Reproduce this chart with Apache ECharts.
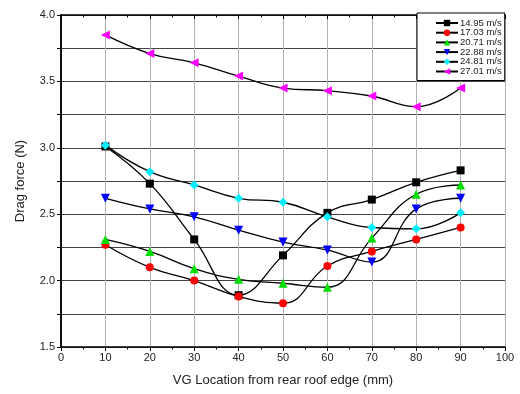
<!DOCTYPE html>
<html><head><meta charset="utf-8">
<script src="https://cdn.jsdelivr.net/npm/echarts@6/dist/echarts.min.js"></script>
<style>html,body{margin:0;padding:0;background:#fff}#c{width:520px;height:394px}</style>
</head><body><div id="c"></div>
<script>
const positions = [10, 20, 30, 40, 50, 60, 70, 80, 90];
const seriesNames = ['14.95 m/s', '17.03 m/s', '20.71 m/s', '22.88 m/s', '24.81 m/s', '27.01 m/s'];
const s1495 = [3.01, 2.73, 2.31, 1.89, 2.19, 2.51, 2.61, 2.74, 2.83];
const s1703 = [2.27, 2.10, 2.00, 1.88, 1.83, 2.11, 2.22, 2.31, 2.40];
const s2071 = [2.31, 2.22, 2.09, 2.01, 1.98, 1.95, 2.32, 2.65, 2.72];
const s2288 = [2.62, 2.54, 2.48, 2.38, 2.29, 2.23, 2.14, 2.54, 2.62];
const s2481 = [3.02, 2.82, 2.72, 2.62, 2.59, 2.48, 2.40, 2.39, 2.51];
const s2701 = [3.85, 3.71, 3.64, 3.54, 3.45, 3.43, 3.39, 3.31, 3.45];
const xTicks = [0, 10, 20, 30, 40, 50, 60, 70, 80, 90, 100];
const yTicks = ['1.5', '2.0', '2.5', '3.0', '3.5', '4.0'];

const allData = [s1495, s1703, s2071, s2288, s2481, s2701];
const colors = ['#000000', '#ff0000', '#00dd00', '#0000ff', '#00eeff', '#ff00ff'];
const symbols = ['rect', 'circle', 'triangle', 'triangle', 'diamond', 'triangle'];
const rotates = [0, 0, 0, 180, 0, 90];
const sizes = [8, 8, 9, 9, 9, 9];

const font = 'Liberation Sans, Arial, sans-serif';
const chart = echarts.init(document.getElementById('c'));
chart.setOption({
  animation: false,
  grid: { left: 61, right: 15, top: 15, bottom: 47, containLabel: false },
  legend: {
    orient: 'vertical', left: 417, top: 13,
    itemWidth: 22, itemHeight: 8, itemGap: -0.3,
    backgroundColor: '#fff',
    borderColor: '#000', borderWidth: 1, padding: [5, 3, 4, 18],
    textStyle: { fontSize: 9.5, fontFamily: font, color: '#222', padding: [0, 0, 0, -3] },
    data: seriesNames
  },
  xAxis: [{
    type: 'value', min: 0, max: 100, interval: 10,
    name: 'VG Location from rear roof edge (mm)', nameLocation: 'middle', nameGap: 27,
    nameTextStyle: { fontSize: 13, fontFamily: font, color: '#222' },
    axisLine: { lineStyle: { color: '#000', width: 1.5 } },
    axisTick: { inside: false, length: 4, lineStyle: { color: '#000' } },
    minorTick: { show: true, splitNumber: 2, length: 2.5, lineStyle: { color: '#000' } },
    axisLabel: { fontSize: 11, fontFamily: font, color: '#222', margin: 5,
      formatter: v => xTicks.includes(v) ? String(v) : '' },
    splitLine: { show: true, lineStyle: { color: '#b0b0b0', width: 1 } }
  }, {
    type: 'value', min: 0, max: 100, interval: 10, position: 'top',
    axisLine: { show: true, lineStyle: { color: '#000', width: 1.5 } },
    axisTick: { inside: true, length: 4, lineStyle: { color: '#000' } },
    minorTick: { show: true, splitNumber: 2, length: 2.5, lineStyle: { color: '#000' } },
    axisLabel: { show: false }, splitLine: { show: false }
  }],
  yAxis: [{
    type: 'value', min: 1.5, max: 4.0, interval: 0.5,
    name: 'Drag force (N)', nameLocation: 'middle', nameGap: 34,
    nameTextStyle: { fontSize: 13, fontFamily: font, color: '#222' },
    axisLine: { show: true, lineStyle: { color: '#000', width: 1.5 } },
    axisTick: { show: true, inside: false, length: 4, lineStyle: { color: '#000' } },
    minorTick: { show: true, splitNumber: 2, length: 3, lineStyle: { color: '#000' } },
    axisLabel: { fontSize: 11, fontFamily: font, color: '#222', margin: 6,
      formatter: v => { const s = v.toFixed(1); return yTicks.includes(s) ? s : ''; } },
    splitLine: { show: true, lineStyle: { color: '#444', width: 1 } },
    minorSplitLine: { show: true, lineStyle: { color: '#444', width: 1 } }
  }, {
    type: 'value', min: 1.5, max: 4.0, interval: 0.5, position: 'right',
    axisLine: { show: true, lineStyle: { color: '#000', width: 1.5 } },
    axisTick: { show: true, inside: true, length: 4, lineStyle: { color: '#000' } },
    minorTick: { show: true, splitNumber: 2, length: 4, lineStyle: { color: '#000' } },
    axisLabel: { show: false }, splitLine: { show: false }
  }],
  series: seriesNames.map((n, i) => ({
    name: n, type: 'line', xAxisIndex: 0, yAxisIndex: 0,
    data: positions.map((x, j) => [x, allData[i][j]]),
    smooth: 0.45,
    symbol: symbols[i], symbolSize: sizes[i], symbolRotate: rotates[i],
    showAllSymbol: true,
    lineStyle: { color: '#000', width: 1.3 },
    itemStyle: { color: colors[i] },
    z: 3
  }))
});
</script></body></html>
